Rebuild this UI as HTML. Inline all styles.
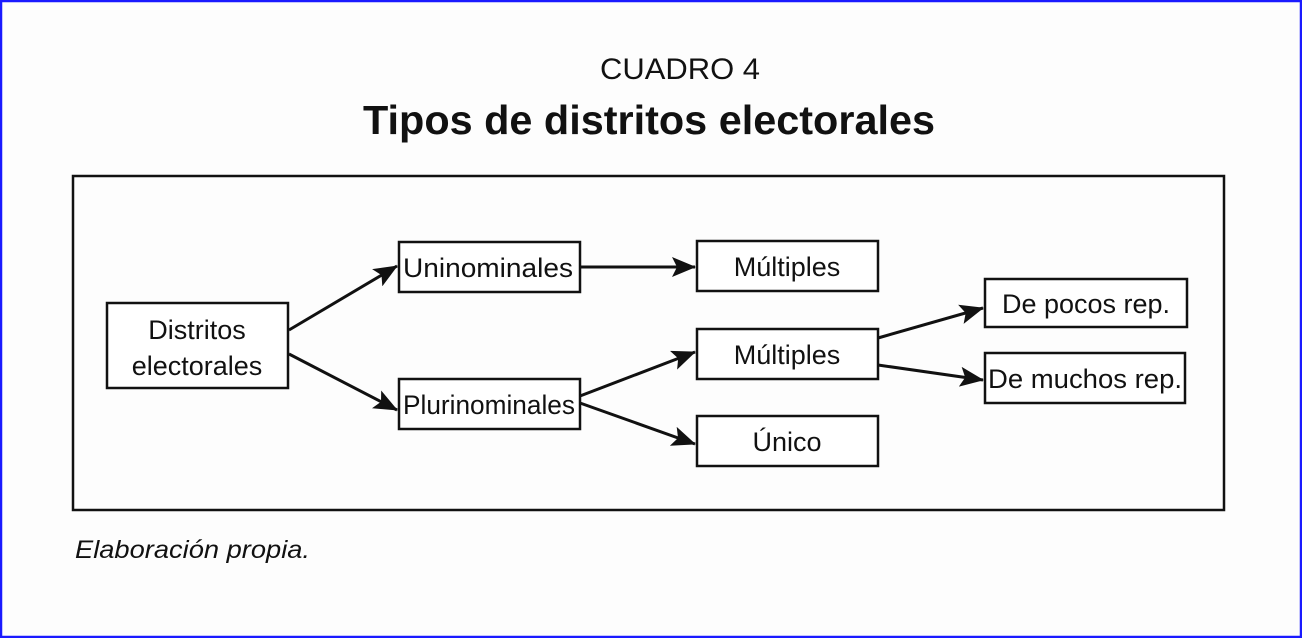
<!DOCTYPE html>
<html><head><meta charset="utf-8"><style>
body{margin:0;width:1302px;height:638px;overflow:hidden;background:#fff}
svg{display:block}
text{font-family:"Liberation Sans",Arial,sans-serif;fill:#111}
</style></head><body>
<svg width="1302" height="638" viewBox="0 0 1302 638">
<defs>
<marker id="ah" viewBox="0 0 24 20" refX="23" refY="10" markerWidth="24" markerHeight="20" markerUnits="userSpaceOnUse" orient="auto"><path d="M0,0 L24,10 L0,20 L5,10 z" fill="#111"/></marker></defs>
<rect x="1" y="1" width="1300" height="636" fill="#fdfdfd" stroke="#1a1aff" stroke-width="2.5"/>
<text x="680" y="79" font-size="30" text-anchor="middle" textLength="160" lengthAdjust="spacingAndGlyphs">CUADRO 4</text>
<text x="649" y="134" font-size="41" font-weight="bold" text-anchor="middle" textLength="572" lengthAdjust="spacingAndGlyphs">Tipos de distritos electorales</text>
<rect x="73" y="176" width="1151" height="334" fill="none" stroke="#111" stroke-width="2.5"/>
<g fill="#fff" stroke="#111" stroke-width="2.5">
<rect x="107" y="303" width="181" height="85"/>
<rect x="399" y="242" width="181" height="50"/>
<rect x="399" y="379" width="181" height="50"/>
<rect x="697" y="241" width="181" height="50"/>
<rect x="697" y="329" width="181" height="50"/>
<rect x="697" y="416" width="181" height="50"/>
<rect x="985" y="279" width="202" height="48"/>
<rect x="985" y="353" width="200" height="50"/>
</g>
<g stroke="#111" stroke-width="3" marker-end="url(#ah)">
<line x1="289" y1="330" x2="397" y2="266"/>
<line x1="289" y1="354" x2="397" y2="410"/>
<line x1="580" y1="267" x2="695" y2="267"/>
<line x1="580" y1="396" x2="695" y2="352"/>
<line x1="580" y1="403" x2="695" y2="444"/>
<line x1="878" y1="338" x2="983" y2="308"/>
<line x1="878" y1="365" x2="983" y2="380"/>
</g>
<g font-size="27" text-anchor="middle">
<text x="197" y="339">Distritos</text>
<text x="197" y="375">electorales</text>
<text x="488" y="277" textLength="170" lengthAdjust="spacingAndGlyphs">Uninominales</text>
<text x="489" y="414" textLength="172" lengthAdjust="spacingAndGlyphs">Plurinominales</text>
<text x="787" y="276">Múltiples</text>
<text x="787" y="364">Múltiples</text>
<text x="787" y="451">Único</text>
<text x="1086" y="313" textLength="168" lengthAdjust="spacingAndGlyphs">De pocos rep.</text>
<text x="1085" y="388" textLength="194" lengthAdjust="spacingAndGlyphs">De muchos rep.</text>
</g>
<text x="75" y="558" font-size="25" font-style="italic" textLength="235" lengthAdjust="spacingAndGlyphs">Elaboración propia.</text>
</svg>
</body></html>
